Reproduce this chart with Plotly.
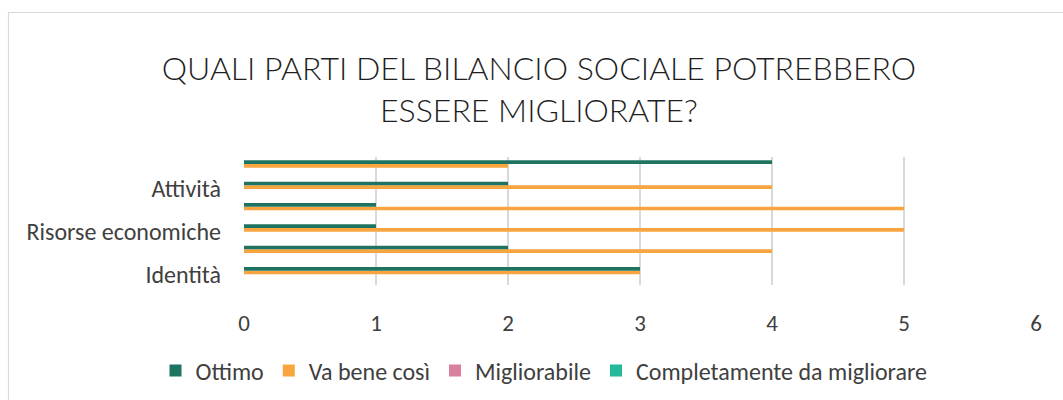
import plotly.graph_objects as go

# Survey categories, listed bottom to top on the chart
categories = [
    "Identità",
    "Stakeholder",
    "Risorse economiche",
    "Relazione sociale",
    "Attività",
    "Obiettivi futuri",
]
labelled = ["Identità", "Risorse economiche", "Attività"]

ottimo = [3, 2, 1, 1, 2, 4]
va_bene = [3, 4, 5, 5, 4, 2]
migliorabile = [0, 0, 0, 0, 0, 0]
completamente = [0, 0, 0, 0, 0, 0]

series = [
    ("Ottimo", ottimo, "#1E7461", 1),
    ("Va bene così", va_bene, "#F9A53F", 2),
    ("Migliorabile", migliorabile, "#D97FA0", 3),
    ("Completamente da migliorare", completamente, "#23B99A", 4),
]

FONT = "Carlito, Calibri, Lato, sans-serif"
TITLE_FONT = "Lato Light, Roboto Light, Lato, sans-serif"
TEXT = "#404040"

fig = go.Figure()
# Added in reverse so the first series sits at the top of each group
for name, vals, color, rank in reversed(series):
    fig.add_trace(go.Bar(
        y=categories, x=vals, name=name, orientation="h",
        marker=dict(color=color, line=dict(width=0)),
        legendrank=rank,
    ))

# Plot area in pixels
W, H = 1063, 400
L, R, T, B = 244, 1036, 157, 285
pw, ph = R - L, B - T

def px(x):
    return (x - L) / pw

def py(y):
    return (B - y) / ph

fig.update_layout(
    width=W, height=H,
    margin=dict(l=L, r=W - R, t=T, b=H - B, pad=0, autoexpand=False),
    paper_bgcolor="white", plot_bgcolor="white",
    barmode="group", bargap=0.31, bargroupgap=0,
    font=dict(family=FONT, color=TEXT),
    title=dict(
        text="QUALI PARTI DEL BILANCIO SOCIALE POTREBBERO<br>ESSERE MIGLIORATE?",
        font=dict(size=32, family=TITLE_FONT, color="#1F1F1F", weight=300),
        x=px(539), xref="paper", xanchor="center",
        y=1 - 80 / H, yref="container", yanchor="middle",
    ),
    xaxis=dict(
        range=[0, 6], dtick=1, tick0=0,
        showgrid=True, gridcolor="#D9D9D9", gridwidth=1.5,
        zeroline=False, showline=False,
        tickfont=dict(size=23, color=TEXT), ticks="", ticklabelstandoff=22,
    ),
    yaxis=dict(
        type="category", categoryorder="array", categoryarray=categories,
        tickvals=labelled, ticktext=labelled,
        showgrid=False, zeroline=False, showline=False,
        tickfont=dict(size=24, color=TEXT), ticks="", ticklabelstandoff=22,
    ),
    legend=dict(
        orientation="h", x=px(544), xanchor="center",
        y=1 - 371 / H, yref="container", yanchor="middle",
        font=dict(size=24, color=TEXT),
        traceorder="normal",
    ),
    shapes=[
        # chart frame
        dict(type="rect", xref="paper", yref="paper",
             x0=px(8.5), x1=px(1080), y0=py(12.5), y1=py(420),
             line=dict(color="#D9D9D9", width=1.2), layer="below"),
    ],
)

fig.write_html("out.html")
